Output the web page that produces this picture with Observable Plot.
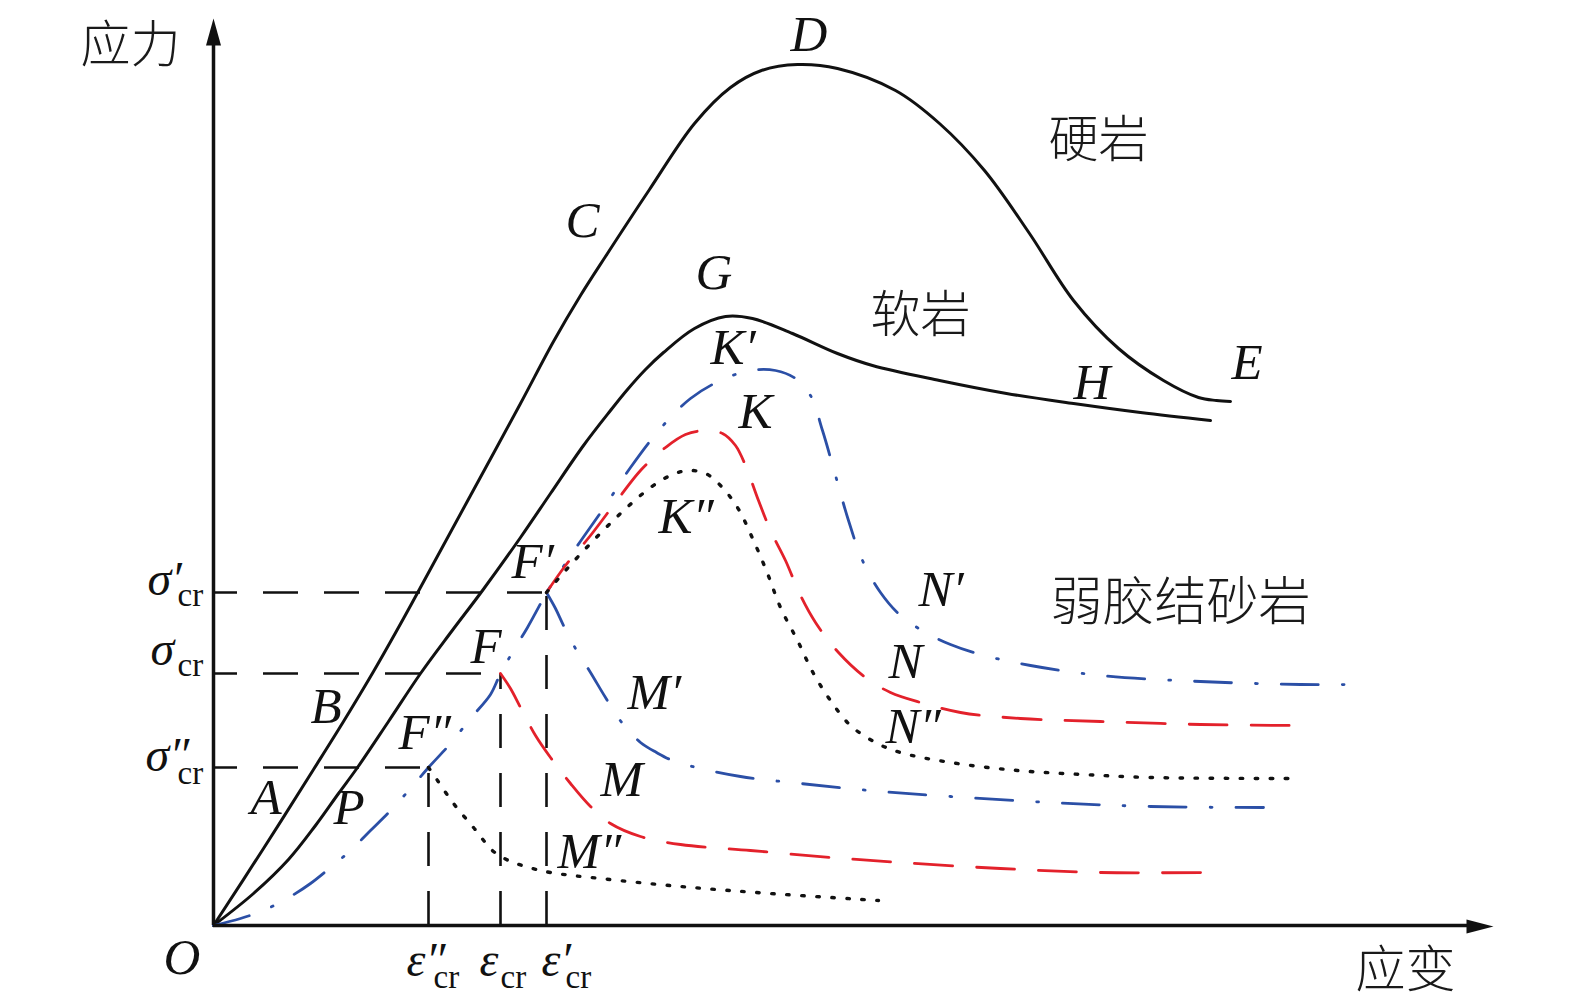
<!DOCTYPE html>
<html><head><meta charset="utf-8">
<script src="https://cdn.jsdelivr.net/npm/d3@7"></script>
<script src="https://cdn.jsdelivr.net/npm/@observablehq/plot@0.6"></script>
<style>html,body{margin:0;padding:0;background:#fff;} svg{display:block;}</style>
</head><body>
<div id="chart"></div>
<script>
// Stress–strain schematic: x = strain, y = stress (arbitrary units, origin O at 0,0)
const hardRock = [[0,0],[50,77],[100,156],[130,204],[160,254],[190,307],[220,362],[257,430],[307,522],[340,584],[367,630],[392,669],[436,736],[481,802],[517,838],[548,855],[584,861],[624,857],[682,835],[726,802],[771,755],[816,692],[860,625],[905,577],[950,545],[985,528],[1003,525],[1017,524]];
const softRock = [[0,0],[40,32],[75,66],[102,100],[125,132],[144,158],[175,204],[207,252],[238,294],[269,335],[307,388],[337,432],[370,480],[397,515],[414,536],[432,556],[450,573],[481,597],[512,609],[539,607],[579,592],[624,572],[659,560],[726,545],[793,532],[860,522],[927,513],[997,505]];
// weak cemented sandstone
const blueRise = [[0,0],[27,7],[52,16],[77,29],[97,42],[117,58],[137,75],[157,95],[177,115],[197,137],[215,158],[237,182],[257,207],[277,231],[287,252],[300,275],[314,298],[333,333]];
const bluePeak = [[333,333],[362,377],[392,420],[417,458],[447,497],[477,527],[507,545],[537,555],[562,555],[582,547],[597,530],[609,495],[622,450],[635,405],[649,365],[667,333],[687,310],[712,293],[737,281],[767,271],[817,260],[887,250],[987,244],[1087,241],[1142,241]];
const blueSoft = [[333,333],[342,317],[350,300],[362,277],[377,253],[392,228],[409,202],[427,183],[443,173],[459,165],[487,157],[527,149],[587,142],[657,135],[737,129],[837,123],[937,119],[1050,118]];
const redPeak = [[333,333],[352,360],[377,390],[402,423],[427,455],[452,478],[472,491],[492,495],[509,492],[522,480],[532,460],[545,425],[557,395],[572,365],[587,330],[602,303],[625,273],[652,248],[677,233],[707,223],[747,213],[807,207],[887,204],[987,201],[1082,200]];
const redSoft = [[287,252],[297,237],[307,218],[322,190],[337,168],[357,142],[377,119],[397,102],[427,89],[467,81],[537,75],[617,68],[687,63],[787,57],[887,53],[992,53]];
const dotPeak = [[333,333],[352,355],[377,382],[407,412],[437,438],[457,450],[474,455],[492,452],[507,440],[524,418],[540,385],[554,352],[567,318],[584,285],[600,252],[617,225],[637,200],[662,183],[687,173],[737,163],[804,155],[870,151],[937,148],[1082,147]];
const dotSoft = [[215,158],[224,145],[240,122],[260,98],[280,74],[295,65],[312,59],[337,53],[387,47],[467,39],[557,32],[665,25]];

// critical levels: [double prime, plain, prime]
const sigmaCr = [158, 252, 333];
const epsCr = [215, 287, 333];
const sigmaLabels = ["σ″", "σ", "σ′"];
const epsLabels = ["ε″", "ε", "ε′"];

// point letters (left edge, baseline) in data coordinates
const letters = [
  {t:"O",x:-50,y:-48},{t:"A",x:37,y:112},{t:"P",x:120,y:102},{t:"B",x:97,y:203},
  {t:"F″",x:185,y:177},{t:"F",x:257,y:263},{t:"F′",x:298,y:348},
  {t:"C",x:352,y:689},{t:"D",x:577,y:875},{t:"G",x:482,y:637},
  {t:"K′",x:497,y:562},{t:"K",x:525,y:498},{t:"K″",x:445,y:393},
  {t:"H",x:860,y:527},{t:"E",x:1018,y:547},
  {t:"M′",x:414,y:217},{t:"M",x:387,y:130},{t:"M″",x:344,y:58},
  {t:"N′",x:705,y:320},{t:"N",x:675,y:248},{t:"N″",x:672,y:183}
];
const words = [
  {t:"硬岩",x:835,y:785,s:50},{t:"软岩",x:657,y:610,s:50},{t:"弱胶结砂岩",x:837,y:322,s:52},
  {t:"应力",x:-133,y:880,s:50},{t:"应变",x:1142,y:-45,s:50}
];

const serif = "'Liberation Serif','Times New Roman',serif";
const cjk = "'Noto Sans CJK SC','Noto Sans CJK JP',sans-serif";
const BLUE = "#2b4fa6", RED = "#e3212b";
const px = d => d[0], py = d => d[1];

const upHead = {draw(c){ c.moveTo(0,0); c.lineTo(-7.5,27); c.lineTo(7.5,27); c.closePath(); }};
const rightHead = {draw(c){ c.moveTo(0,0); c.lineTo(-27,-7); c.lineTo(-27,7); c.closePath(); }};

const sigOff = [{dx:-68,dy:3,cdy:16},{dx:-63,dy:-9,cdy:2},{dx:-66,dy:2,cdy:13}];
const epsOff = [{dx:-22,cdx:5},{dx:-21,cdx:0},{dx:-5,cdx:19}];

const marks = [
  // reference dashed lines
  Plot.ruleY(sigmaCr, {y: d=>d, x1: 0, x2: (d,i)=>epsCr[i], stroke:"#111", strokeWidth:2.6, strokeDasharray:"35,26", strokeDashoffset:11}),
  Plot.ruleX(epsCr, {x: d=>d, y1: 0, y2: (d,i)=>sigmaCr[i], stroke:"#111", strokeWidth:2.6, strokeDasharray:"34,25"}),
  // curves
  Plot.line(hardRock, {x:px, y:py, curve:"catmull-rom", stroke:"#111", strokeWidth:3}),
  Plot.line(softRock, {x:px, y:py, curve:"catmull-rom", stroke:"#111", strokeWidth:3}),
  Plot.line(blueRise, {x:px, y:py, curve:"catmull-rom", stroke:BLUE, strokeWidth:2.8, strokeDasharray:"37,24,1.8,24", strokeDashoffset:0}),
  Plot.line(bluePeak, {x:px, y:py, curve:"catmull-rom", stroke:BLUE, strokeWidth:2.8, strokeDasharray:"37,24,1.8,24", strokeDashoffset:30}),
  Plot.line(blueSoft, {x:px, y:py, curve:"catmull-rom", stroke:BLUE, strokeWidth:2.8, strokeDasharray:"37,24,1.8,24", strokeDashoffset:0}),
  Plot.line(redPeak, {x:px, y:py, curve:"catmull-rom", stroke:RED, strokeWidth:2.8, strokeDasharray:"38,24", strokeDashoffset:0}),
  Plot.line(redSoft, {x:px, y:py, curve:"catmull-rom", stroke:RED, strokeWidth:2.8, strokeDasharray:"38,24"}),
  Plot.line(dotPeak, {x:px, y:py, curve:"catmull-rom", stroke:"#111", strokeWidth:3.4, strokeDasharray:"2.5,12.5", strokeLinecap:"round"}),
  Plot.line(dotSoft, {x:px, y:py, curve:"catmull-rom", stroke:"#111", strokeWidth:3.4, strokeDasharray:"2.5,12.5", strokeLinecap:"round"}),
  // axes
  Plot.ruleX([0], {y1:0, y2:880, stroke:"#111", strokeWidth:3.5}),
  Plot.ruleY([0], {x1:0, x2:1256, stroke:"#111", strokeWidth:3.5}),
  Plot.dot([[0,907]], {x:px, y:py, symbol:upHead, fill:"#111", stroke:"none"}),
  Plot.dot([[1280,-1]], {x:px, y:py, symbol:rightHead, fill:"#111", stroke:"none"}),
  // letters
  Plot.text(letters, {x:"x", y:"y", text:"t", textAnchor:"start", lineAnchor:"bottom", fontFamily:serif, fontStyle:"italic", fontSize:51, fill:"#111"}),
  // Chinese words
  ...words.map(w => Plot.text([w], {x:"x", y:"y", text:"t", textAnchor:"start", lineAnchor:"middle", fontFamily:cjk, fontWeight:300, fontSize:w.s, fill:"#1a1a1a"})),
  // stress tick labels
  ...sigmaCr.flatMap((s,i) => [
    Plot.text([s], {x:()=>0, y:d=>d, text:()=>sigmaLabels[i], dx:sigOff[i].dx, dy:sigOff[i].dy, textAnchor:"start", lineAnchor:"bottom", fontFamily:serif, fontStyle:"italic", fontSize:48, fill:"#111"}),
    Plot.text([s], {x:()=>0, y:d=>d, text:()=>"cr", dx:-36, dy:sigOff[i].cdy, textAnchor:"start", lineAnchor:"bottom", fontFamily:serif, fontSize:33, fill:"#111"})
  ]),
  // strain tick labels
  ...epsCr.flatMap((e,i) => [
    Plot.text([e], {x:d=>d, y:()=>0, text:()=>epsLabels[i], dx:epsOff[i].dx, dy:50, textAnchor:"start", lineAnchor:"bottom", fontFamily:serif, fontStyle:"italic", fontSize:48, fill:"#111"}),
    Plot.text([e], {x:d=>d, y:()=>0, text:()=>"cr", dx:epsOff[i].cdx, dy:62, textAnchor:"start", lineAnchor:"bottom", fontFamily:serif, fontSize:33, fill:"#111"})
  ])
];

const chart = Plot.plot({
  width: 1575, height: 1008,
  marginLeft: 213, marginRight: 0, marginTop: 0, marginBottom: 83,
  x: {domain:[0,1362], axis:null},
  y: {domain:[0,925], axis:null},
  style: {background:"#fff", overflow:"visible"},
  marks
});
document.getElementById("chart").appendChild(chart);
</script>
</body></html>
